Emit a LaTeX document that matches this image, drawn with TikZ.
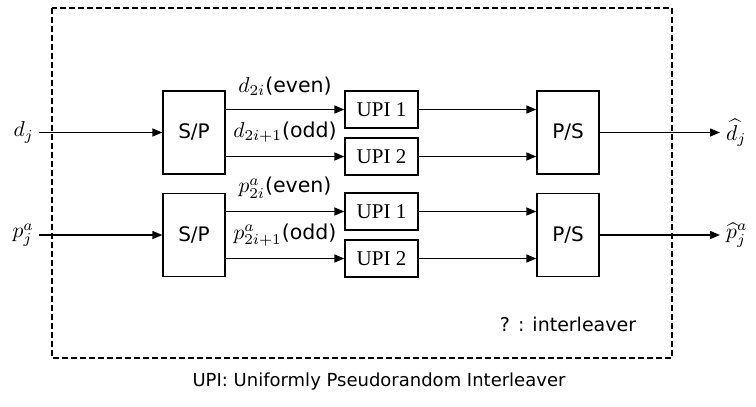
\RequirePackage{fix-cm}
\documentclass[tikz,border=0pt]{standalone}
\usepackage{fontspec}
\setmainfont{DejaVu Sans}
\newfontfamily\serifblk{Liberation Serif}
\usetikzlibrary{arrows.meta}
% math symbols set at 10pt, then enlarged to label size
\newcommand\sigmath[1]{\scalebox{2.15}{\fontsize{10}{12}\selectfont$#1$}}

\begin{document}
\begin{tikzpicture}[x=1pt,y=-1pt,
  blk/.style={draw, line width=1.3pt, inner sep=0pt},
  sp/.style={blk, minimum width=62pt, minimum height=83pt, font=\fontsize{20}{22}\selectfont},
  upi/.style={blk, minimum width=73pt, minimum height=37pt, font=\serifblk\fontsize{21}{22}\selectfont},
  sig/.style={line width=1.3pt, -{Triangle[length=10pt,width=8pt]}},
  lab/.style={font=\fontsize{18}{22}\selectfont, inner sep=0pt},
  blab/.style={font=\fontsize{20.5}{22}\selectfont, inner sep=0pt},
  mlab/.style={inner sep=0pt},
]
\useasboundingbox (0,0) rectangle (756,407);

% interleaver boundary
\draw[line width=2.3pt, dash pattern=on 6pt off 3pt] (52,8) rectangle (672,358);

% blocks
\node[sp] (sp1) at (194,132.5) {S/P};
\node[sp] (sp2) at (194,235) {S/P};
\node[upi] (u11) at (381.5,109.5) {UPI 1};
\node[upi] (u12) at (381.5,156.5) {UPI 2};
\node[upi] (u21) at (381.5,211.5) {UPI 1};
\node[upi] (u22) at (381.5,258.5) {UPI 2};
\node[sp] (ps1) at (568,132.5) {P/S};
\node[sp] (ps2) at (568,235) {P/S};

% inputs and outputs
\coordinate (din) at (39,132.5);
\coordinate (pin) at (39,235);
\coordinate (dout) at (720,132.5);
\coordinate (pout) at (720,235);
\node[mlab, anchor=east] (dlab) at ([xshift=-5pt]din) {\sigmath{d_j}};
\node[mlab, anchor=east] (plab) at ([xshift=-5pt]pin) {\sigmath{p_j^a}};
\node[mlab, anchor=west] (dhat) at ([xshift=6pt]dout) {\sigmath{\widehat{d}_j}};
\node[mlab, anchor=west] (phat) at ([xshift=6pt]pout) {\sigmath{\widehat{p}_j^a}};

\draw[sig] (din) -- (sp1.west);
\draw[sig] (pin) -- (sp2.west);
\draw[sig] (ps1.east) -- (dout);
\draw[sig] (ps2.east) -- (pout);

% S/P to UPI
\draw[sig] (sp1.east |- u11) -- (u11.west);
\draw[sig] (sp1.east |- u12) -- (u12.west);
\draw[sig] (sp2.east |- u21) -- (u21.west);
\draw[sig] (sp2.east |- u22) -- (u22.west);

% UPI to P/S
\draw[sig] (u11.east) -- (ps1.west |- u11);
\draw[sig] (u12.east) -- (ps1.west |- u12);
\draw[sig] (u21.east) -- (ps2.west |- u21);
\draw[sig] (u22.east) -- (ps2.west |- u22);

% branch labels
\node[blab] (l1) at (285,86) {\sigmath{d_{2i}}(even)};
\node[blab] (l2) at (285,132) {\sigmath{d_{2i+1}}(odd)};
\node[blab] (l3) at (285,188) {\sigmath{p^a_{2i}}(even)};
\node[blab] (l4) at (285,235) {\sigmath{p^a_{2i+1}}(odd)};

% legend and caption
\node[lab, font=\fontsize{19}{22}\selectfont] (legend) at (568,324) {? : interleaver};
\node[lab] (caption) at (379,382) {UPI: Uniformly Pseudorandom Interleaver};
\end{tikzpicture}
\end{document}
